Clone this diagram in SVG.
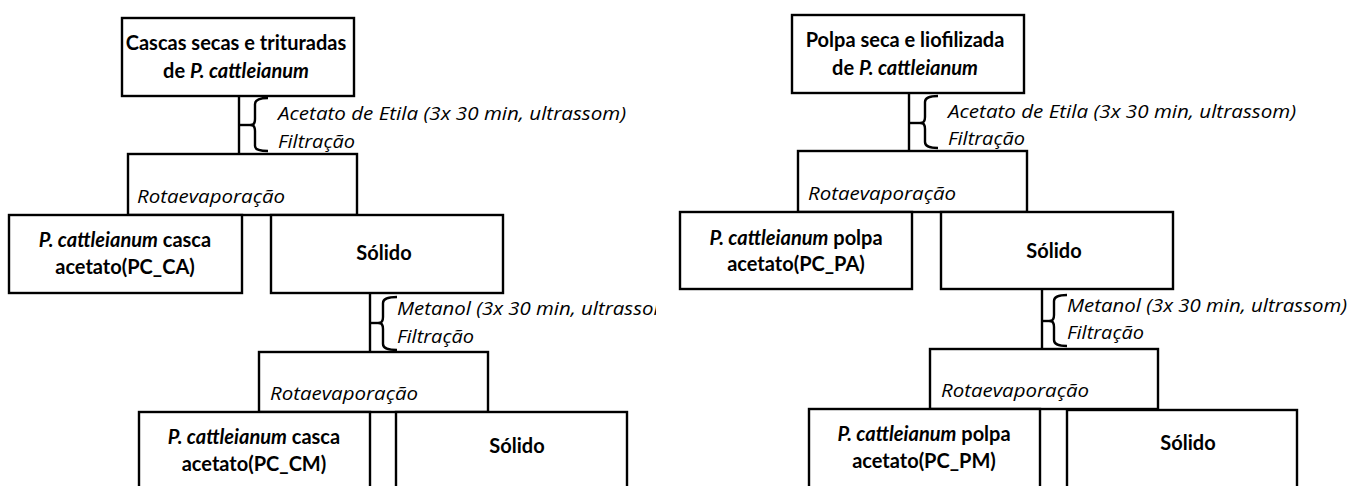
<svg xmlns="http://www.w3.org/2000/svg" width="1351" height="486" viewBox="0 0 1351 486">
<style>
.box{fill:#fff;stroke:#000;stroke-width:2.4}
.ln{fill:none;stroke:#000;stroke-width:2.4}
.br{fill:none;stroke:#000;stroke-width:2.4;stroke-linejoin:round}
.t{font-family:Lato,"Liberation Sans",sans-serif;font-size:20px;font-weight:bold;fill:#000;text-anchor:middle}
.lb{font-family:"Open Sans","Liberation Sans",sans-serif;font-size:18.5px;font-style:italic;fill:#000}
.i{font-style:italic}
</style>
<defs>
<clipPath id="clipL"><rect x="0" y="0" width="656" height="486"/></clipPath>
</defs>
<rect width="1351" height="486" fill="#fff"/>

<g id="connectors">
<line class="ln" x1="239" y1="96" x2="239" y2="154"/>
<line class="ln" x1="239" y1="125" x2="252" y2="125"/>
<path class="br" d="M268,98 Q255,98 255,104 L255,119 Q255,125 251,125 Q255,125 255,131 L255,146 Q255,151 268,151"/>
<line class="ln" x1="370" y1="293" x2="370" y2="352"/>
<line class="ln" x1="370" y1="323" x2="380" y2="323"/>
<path class="br" d="M397,297 Q383,297 383,303 L383,317 Q383,323 379,323 Q383,323 383,329 L383,344 Q383,350 397,350"/>
<line class="ln" x1="909" y1="93" x2="909" y2="151"/>
<line class="ln" x1="909" y1="123" x2="922" y2="123"/>
<path class="br" d="M938,96 Q925,96 925,102 L925,117 Q925,123 921,123 Q925,123 925,129 L925,142 Q925,148 938,148"/>
<line class="ln" x1="1042" y1="289" x2="1042" y2="349"/>
<line class="ln" x1="1042" y1="321" x2="1051" y2="321"/>
<path class="br" d="M1067,295 Q1054,295 1054,301 L1054,315 Q1054,321 1050,321 Q1054,321 1054,327 L1054,340 Q1054,346 1067,346"/>
</g>

<g id="lbl-left">
<text class="lb" x="278" y="120" textLength="348" lengthAdjust="spacingAndGlyphs">Acetato de Etila (3x 30 min, ultrassom)</text>
<text class="lb" x="278" y="148" textLength="77" lengthAdjust="spacingAndGlyphs">Filtração</text>
<text class="lb" x="397" y="315" clip-path="url(#clipL)" textLength="280" lengthAdjust="spacingAndGlyphs">Metanol (3x 30 min, ultrassom)</text>
<text class="lb" x="397" y="343" textLength="77" lengthAdjust="spacingAndGlyphs">Filtração</text>
</g>
<g id="lbl-right">
<text class="lb" x="948" y="118" textLength="348" lengthAdjust="spacingAndGlyphs">Acetato de Etila (3x 30 min, ultrassom)</text>
<text class="lb" x="948" y="145" textLength="77" lengthAdjust="spacingAndGlyphs">Filtração</text>
<text class="lb" x="1067" y="312" textLength="280" lengthAdjust="spacingAndGlyphs">Metanol (3x 30 min, ultrassom)</text>
<text class="lb" x="1067" y="339" textLength="77" lengthAdjust="spacingAndGlyphs">Filtração</text>
</g>

<g id="L-top"><rect class="box" x="122" y="18" width="232" height="78"/>
<text class="t" x="236" y="50">Cascas secas e trituradas</text>
<text class="t" x="236" y="78">de <tspan class="i">P. cattleianum</tspan></text></g>
<g id="L-rot1"><rect class="box" x="128" y="154" width="229" height="61"/>
<text class="lb" x="137" y="203" textLength="148" lengthAdjust="spacingAndGlyphs">Rotaevaporação</text></g>
<g id="L-PC_CA"><rect class="box" x="9" y="215" width="233" height="78"/>
<text class="t" x="125" y="247"><tspan class="i">P. cattleianum</tspan> casca</text>
<text class="t" x="125" y="274">acetato(PC_CA)</text></g>
<g id="L-solido1"><rect class="box" x="271" y="215" width="232" height="78"/>
<text class="t" x="384" y="260">Sólido</text></g>
<g id="L-rot2"><rect class="box" x="259" y="352" width="229" height="60"/>
<text class="lb" x="270" y="400" textLength="148" lengthAdjust="spacingAndGlyphs">Rotaevaporação</text></g>
<g id="L-PC_CM"><rect class="box" x="139" y="412" width="231" height="82"/>
<text class="t" x="254" y="444"><tspan class="i">P. cattleianum</tspan> casca</text>
<text class="t" x="254" y="471">acetato(PC_CM)</text></g>
<g id="L-solido2"><rect class="box" x="396" y="412" width="231" height="82"/>
<text class="t" x="517" y="453">Sólido</text></g>

<g id="R-top"><rect class="box" x="792" y="15" width="232" height="78"/>
<text class="t" x="905" y="47">Polpa seca e liofilizada</text>
<text class="t" x="905" y="75">de <tspan class="i">P. cattleianum</tspan></text></g>
<g id="R-rot1"><rect class="box" x="798" y="151" width="229" height="61"/>
<text class="lb" x="808" y="200" textLength="148" lengthAdjust="spacingAndGlyphs">Rotaevaporação</text></g>
<g id="R-PC_PA"><rect class="box" x="680" y="212" width="232" height="77"/>
<text class="t" x="796" y="245"><tspan class="i">P. cattleianum</tspan> polpa</text>
<text class="t" x="796" y="271">acetato(PC_PA)</text></g>
<g id="R-solido1"><rect class="box" x="941" y="212" width="232" height="77"/>
<text class="t" x="1054" y="258">Sólido</text></g>
<g id="R-rot2"><rect class="box" x="930" y="349" width="228" height="60"/>
<text class="lb" x="941" y="397" textLength="148" lengthAdjust="spacingAndGlyphs">Rotaevaporação</text></g>
<g id="R-PC_PM"><rect class="box" x="809" y="409" width="231" height="85"/>
<text class="t" x="924" y="441"><tspan class="i">P. cattleianum</tspan> polpa</text>
<text class="t" x="924" y="468">acetato(PC_PM)</text></g>
<g id="R-solido2"><rect class="box" x="1067" y="410" width="230" height="84"/>
<text class="t" x="1188" y="450">Sólido</text></g>
</svg>
